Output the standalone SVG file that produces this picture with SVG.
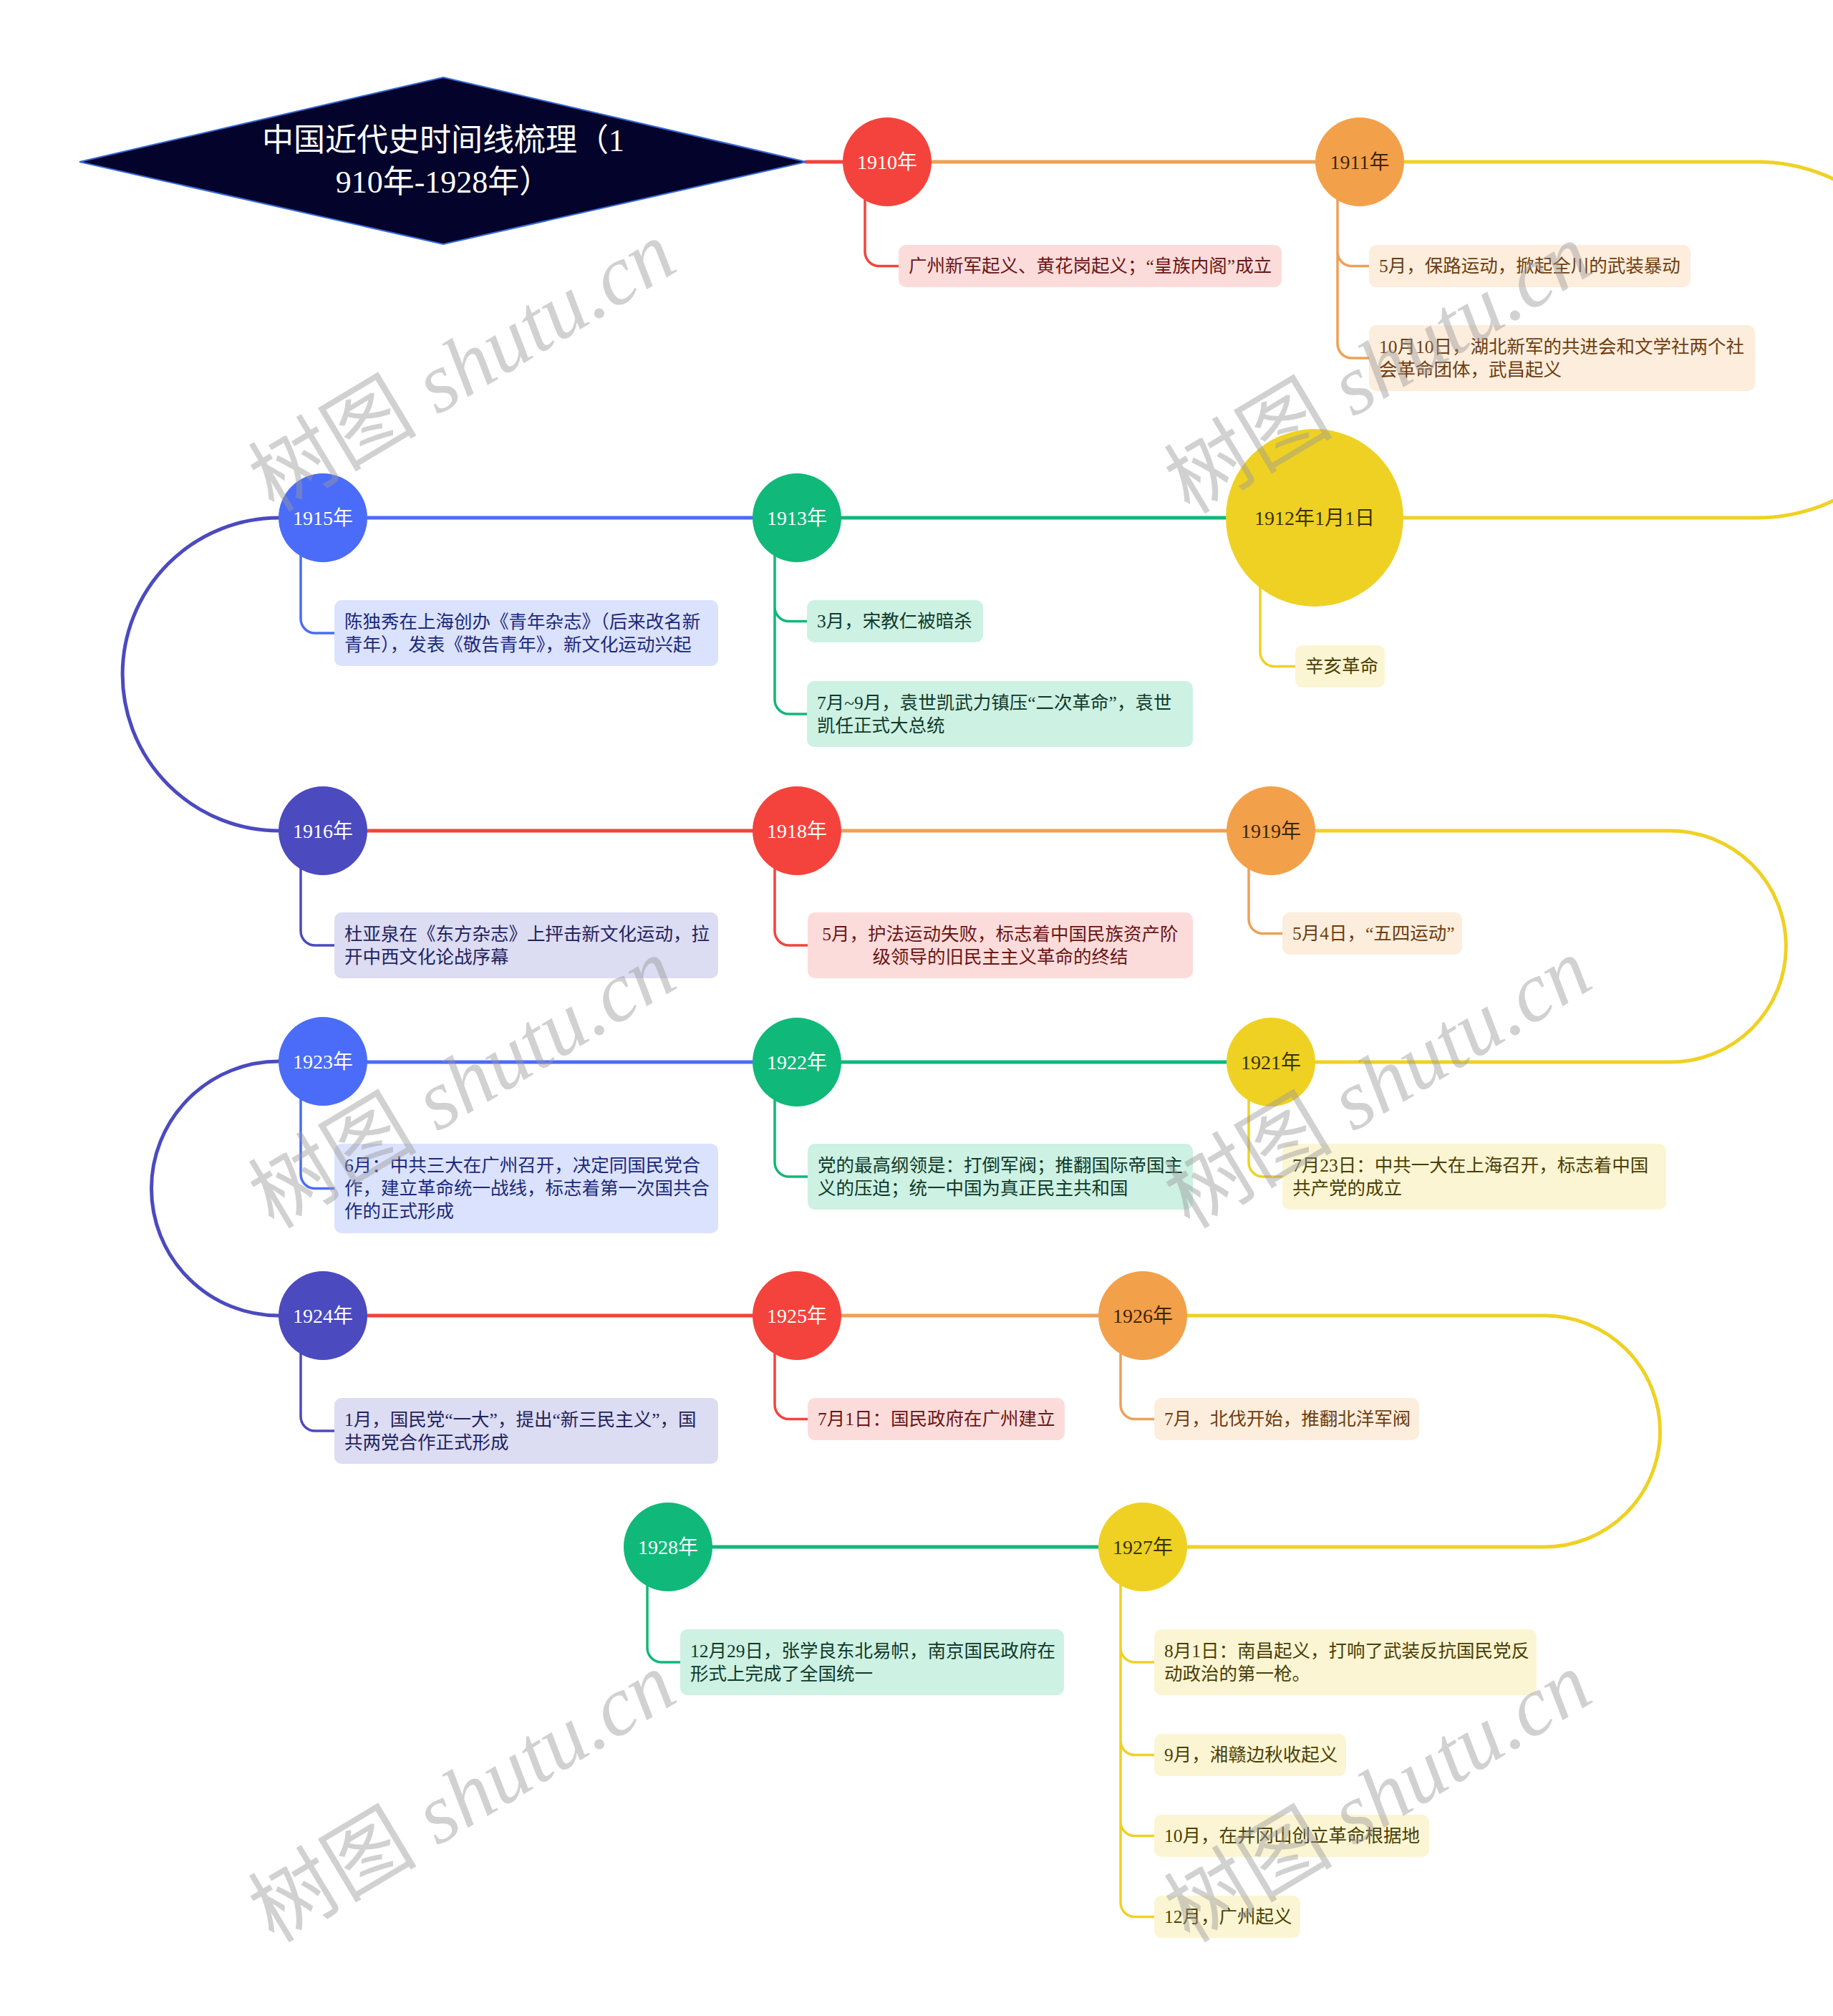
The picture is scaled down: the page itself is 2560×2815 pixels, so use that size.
<svg xmlns="http://www.w3.org/2000/svg" width="2560" height="2815" viewBox="0 0 2560 2815">
<style>
text{font-family:"Liberation Serif","Noto Sans CJK SC",serif;dominant-baseline:central}
.yr{font-size:28px;text-anchor:middle}
.w{fill:#ffffff}.dk1{fill:#3d2607}.dk2{fill:#3a3200}
.bt{font-size:25.5px}
.main{fill:none;stroke-width:5;stroke-linecap:round}
.br{fill:none;stroke-width:3.5}
.s-red{stroke:#f4433c}.s-or{stroke:#eea057}.s-ye{stroke:#efd123}.s-gr{stroke:#10b87a}.s-bl{stroke:#4b6cf8}.s-in{stroke:#4b4abf}
.f-red{fill:#f4433c}.f-or{fill:#f3a04b}.f-ye{fill:#efd123}.f-gr{fill:#10b87a}.f-bl{fill:#4b6cf8}.f-in{fill:#4b4abf}
.b-red{fill:#fcdcdb}.b-or{fill:#fdeddc}.b-ye{fill:#fcf5d3}.b-gr{fill:#cdf1e3}.b-bl{fill:#dbe2fd}.b-in{fill:#dcdcf3}
.t-red{fill:#6b1515}.t-or{fill:#6e3d10}.t-ye{fill:#4a3f05}.t-gr{fill:#103a2a}.t-bl{fill:#1c2a7a}.t-in{fill:#23235c}
.wm{font-size:118px;fill:#9a9a9a;fill-opacity:0.45;text-anchor:middle}
</style>
<rect width="2560" height="2815" fill="#ffffff"/>

<g id="connectors">
<path class="main s-red" d="M1126,226 H1200"/>
<path class="main s-or" d="M1239,226 H1899"/>
<path class="main s-ye" d="M1899,226 H2454 A248.5,248.5 0 0 1 2454,723 H1836"/>
<path class="main s-gr" d="M1836,723 H1113"/>
<path class="main s-bl" d="M1113,723 H451"/>
<path class="main s-in" d="M451,723 H389.5 A218.5,218.5 0 0 0 389.5,1160 H451"/>
<path class="main s-red" d="M451,1160 H1113"/>
<path class="main s-or" d="M1113,1160 H1775"/>
<path class="main s-ye" d="M1775,1160 H2333 A161.5,161.5 0 0 1 2333,1483 H1775"/>
<path class="main s-gr" d="M1775,1483 H1113"/>
<path class="main s-bl" d="M1113,1483 H451"/>
<path class="main s-in" d="M451,1482 H389 A177.5,177.5 0 0 0 389,1837 H451"/>
<path class="main s-red" d="M451,1837 H1113"/>
<path class="main s-or" d="M1113,1837 H1596"/>
<path class="main s-ye" d="M1596,1837 H2157 A161.5,161.5 0 0 1 2157,2160 H1596"/>
<path class="main s-gr" d="M1596,2160 H933"/>

<path class="br s-red" d="M1208,226 V351.5 A20,20 0 0 0 1228,371.5 H1255"/>
<path class="br s-or" d="M1868,226 V480 A20,20 0 0 0 1888,500 H1912 M1868,351.5 A20,20 0 0 0 1888,371.5 H1912"/>
<path class="br s-ye" d="M1760,723 V910.5 A20,20 0 0 0 1780,930.5 H1809"/>
<path class="br s-gr" d="M1082,723 V977 A20,20 0 0 0 1102,997 H1127 M1082,847.5 A20,20 0 0 0 1102,867.5 H1127"/>
<path class="br s-bl" d="M420,723 V864 A20,20 0 0 0 440,884 H467"/>
<path class="br s-in" d="M420,1160 V1300 A20,20 0 0 0 440,1320 H467"/>
<path class="br s-red" d="M1082,1160 V1300 A20,20 0 0 0 1102,1320 H1128"/>
<path class="br s-or" d="M1744,1160 V1283.5 A20,20 0 0 0 1764,1303.5 H1791"/>
<path class="br s-ye" d="M1744,1483 V1623 A20,20 0 0 0 1764,1643 H1791"/>
<path class="br s-gr" d="M1082,1483 V1623 A20,20 0 0 0 1102,1643 H1128"/>
<path class="br s-bl" d="M420,1482 V1639.5 A20,20 0 0 0 440,1659.5 H467"/>
<path class="br s-in" d="M420,1837 V1978 A20,20 0 0 0 440,1998 H467"/>
<path class="br s-red" d="M1082,1837 V1961.5 A20,20 0 0 0 1102,1981.5 H1128"/>
<path class="br s-or" d="M1565,1837 V1961.5 A20,20 0 0 0 1585,1981.5 H1612"/>
<path class="br s-ye" d="M1565,2160 V2656.5 A20,20 0 0 0 1585,2676.5 H1612 M1565,2301 A20,20 0 0 0 1585,2321 H1612 M1565,2430.5 A20,20 0 0 0 1585,2450.5 H1612 M1565,2543.5 A20,20 0 0 0 1585,2563.5 H1612"/>
<path class="br s-gr" d="M904,2160 V2301 A20,20 0 0 0 924,2321 H950"/>
</g>

<g id="title">
<polygon points="111,226 619,108 1126,226 619,341" fill="#03032b" stroke="#3a6bd6" stroke-width="2"/>
<text x="619" y="196" font-size="44" fill="#ffffff" text-anchor="middle">中国近代史时间线梳理（1</text>
<text x="619" y="254" font-size="44" fill="#ffffff" text-anchor="middle">910年-1928年）</text>
</g>

<g id="n1910"><circle cx="1239" cy="226" r="62" class="f-red"/><text x="1239" y="226" class="yr w">1910年</text></g>
<g id="n1911"><circle cx="1899" cy="226" r="62" class="f-or"/><text x="1899" y="226" class="yr dk1">1911年</text></g>
<g id="n1912"><circle cx="1836" cy="723" r="124" class="f-ye"/><text x="1836" y="723" class="yr dk2">1912年1月1日</text></g>
<g id="n1913"><circle cx="1113" cy="723" r="62" class="f-gr"/><text x="1113" y="723" class="yr w">1913年</text></g>
<g id="n1915"><circle cx="451" cy="723" r="62" class="f-bl"/><text x="451" y="723" class="yr w">1915年</text></g>
<g id="n1916"><circle cx="451" cy="1160" r="62" class="f-in"/><text x="451" y="1160" class="yr w">1916年</text></g>
<g id="n1918"><circle cx="1113" cy="1160" r="62" class="f-red"/><text x="1113" y="1160" class="yr w">1918年</text></g>
<g id="n1919"><circle cx="1775" cy="1160" r="62" class="f-or"/><text x="1775" y="1160" class="yr dk1">1919年</text></g>
<g id="n1921"><circle cx="1775" cy="1483" r="62" class="f-ye"/><text x="1775" y="1483" class="yr dk2">1921年</text></g>
<g id="n1922"><circle cx="1113" cy="1483" r="62" class="f-gr"/><text x="1113" y="1483" class="yr w">1922年</text></g>
<g id="n1923"><circle cx="451" cy="1482" r="62" class="f-bl"/><text x="451" y="1482" class="yr w">1923年</text></g>
<g id="n1924"><circle cx="451" cy="1837" r="62" class="f-in"/><text x="451" y="1837" class="yr w">1924年</text></g>
<g id="n1925"><circle cx="1113" cy="1837" r="62" class="f-red"/><text x="1113" y="1837" class="yr w">1925年</text></g>
<g id="n1926"><circle cx="1596" cy="1837" r="62" class="f-or"/><text x="1596" y="1837" class="yr dk1">1926年</text></g>
<g id="n1927"><circle cx="1596" cy="2160" r="62" class="f-ye"/><text x="1596" y="2160" class="yr dk2">1927年</text></g>
<g id="n1928"><circle cx="933" cy="2160" r="62" class="f-gr"/><text x="933" y="2160" class="yr w">1928年</text></g>

<g id="b1910"><rect x="1255" y="342" width="535" height="59" rx="10" class="b-red"/><text x="1269" y="371.5" class="bt t-red">广州新军起义、黄花岗起义；“皇族内阁”成立</text></g>
<g id="b1911a"><rect x="1912" y="342" width="449" height="59" rx="10" class="b-or"/><text x="1926" y="371.5" class="bt t-or">5月，保路运动，掀起全川的武装暴动</text></g>
<g id="b1911b"><rect x="1912" y="454" width="539" height="92" rx="10" class="b-or"/><text x="1926" y="484" class="bt t-or">10月10日，湖北新军的共进会和文学社两个社</text><text x="1926" y="516" class="bt t-or">会革命团体，武昌起义</text></g>
<g id="b1912"><rect x="1809" y="901" width="125" height="59" rx="10" class="b-ye"/><text x="1823" y="930.5" class="bt t-ye">辛亥革命</text></g>
<g id="b1913a"><rect x="1127" y="838" width="246" height="59" rx="10" class="b-gr"/><text x="1141" y="867.5" class="bt t-gr">3月，宋教仁被暗杀</text></g>
<g id="b1913b"><rect x="1127" y="951" width="539" height="92" rx="10" class="b-gr"/><text x="1141" y="981" class="bt t-gr">7月~9月，袁世凯武力镇压“二次革命”，袁世</text><text x="1141" y="1013" class="bt t-gr">凯任正式大总统</text></g>
<g id="b1915"><rect x="467" y="838" width="536" height="92" rx="10" class="b-bl"/><text x="481" y="868" class="bt t-bl">陈独秀在上海创办《青年杂志》（后来改名新</text><text x="481" y="900" class="bt t-bl">青年），发表《敬告青年》，新文化运动兴起</text></g>
<g id="b1916"><rect x="467" y="1274" width="536" height="92" rx="10" class="b-in"/><text x="481" y="1304" class="bt t-in">杜亚泉在《东方杂志》上抨击新文化运动，拉</text><text x="481" y="1336" class="bt t-in">开中西文化论战序幕</text></g>
<g id="b1918"><rect x="1128" y="1274" width="538" height="92" rx="10" class="b-red"/><text x="1397" y="1304" class="bt t-red" text-anchor="middle">5月，护法运动失败，标志着中国民族资产阶</text><text x="1397" y="1336" class="bt t-red" text-anchor="middle">级领导的旧民主主义革命的终结</text></g>
<g id="b1919"><rect x="1791" y="1274" width="251" height="59" rx="10" class="b-or"/><text x="1805" y="1303.5" class="bt t-or">5月4日，“五四运动”</text></g>
<g id="b1921"><rect x="1791" y="1597" width="536" height="92" rx="10" class="b-ye"/><text x="1805" y="1627" class="bt t-ye">7月23日：中共一大在上海召开，标志着中国</text><text x="1805" y="1659" class="bt t-ye">共产党的成立</text></g>
<g id="b1922"><rect x="1128" y="1597" width="538" height="92" rx="10" class="b-gr"/><text x="1142" y="1627" class="bt t-gr">党的最高纲领是：打倒军阀；推翻国际帝国主</text><text x="1142" y="1659" class="bt t-gr">义的压迫；统一中国为真正民主共和国</text></g>
<g id="b1923"><rect x="467" y="1597" width="536" height="125" rx="10" class="b-bl"/><text x="481" y="1627.5" class="bt t-bl">6月：中共三大在广州召开，决定同国民党合</text><text x="481" y="1659.5" class="bt t-bl">作，建立革命统一战线，标志着第一次国共合</text><text x="481" y="1691.5" class="bt t-bl">作的正式形成</text></g>
<g id="b1924"><rect x="467" y="1952" width="536" height="92" rx="10" class="b-in"/><text x="481" y="1982" class="bt t-in">1月，国民党“一大”，提出“新三民主义”，国</text><text x="481" y="2014" class="bt t-in">共两党合作正式形成</text></g>
<g id="b1925"><rect x="1128" y="1952" width="359" height="59" rx="10" class="b-red"/><text x="1142" y="1981.5" class="bt t-red">7月1日：国民政府在广州建立</text></g>
<g id="b1926"><rect x="1612" y="1952" width="370" height="59" rx="10" class="b-or"/><text x="1626" y="1981.5" class="bt t-or">7月，北伐开始，推翻北洋军阀</text></g>
<g id="b1927a"><rect x="1612" y="2275" width="534" height="92" rx="10" class="b-ye"/><text x="1626" y="2305" class="bt t-ye">8月1日：南昌起义，打响了武装反抗国民党反</text><text x="1626" y="2337" class="bt t-ye">动政治的第一枪。</text></g>
<g id="b1927b"><rect x="1612" y="2421" width="268" height="59" rx="10" class="b-ye"/><text x="1626" y="2450.5" class="bt t-ye">9月，湘赣边秋收起义</text></g>
<g id="b1927c"><rect x="1612" y="2534" width="384" height="59" rx="10" class="b-ye"/><text x="1626" y="2563.5" class="bt t-ye">10月，在井冈山创立革命根据地</text></g>
<g id="b1927d"><rect x="1612" y="2647" width="204" height="59" rx="10" class="b-ye"/><text x="1626" y="2676.5" class="bt t-ye">12月，广州起义</text></g>
<g id="b1928"><rect x="950" y="2275" width="536" height="92" rx="10" class="b-gr"/><text x="964" y="2305" class="bt t-gr">12月29日，张学良东北易帜，南京国民政府在</text><text x="964" y="2337" class="bt t-gr">形式上完成了全国统一</text></g>

<g id="watermark">
<text class="wm" transform="translate(646,512) rotate(-31)">树图 <tspan font-style="italic">shutu.cn</tspan></text>
<text class="wm" transform="translate(1925,515) rotate(-31)">树图 <tspan font-style="italic">shutu.cn</tspan></text>
<text class="wm" transform="translate(646,1513) rotate(-31)">树图 <tspan font-style="italic">shutu.cn</tspan></text>
<text class="wm" transform="translate(1925,1513) rotate(-31)">树图 <tspan font-style="italic">shutu.cn</tspan></text>
<text class="wm" transform="translate(646,2510) rotate(-31)">树图 <tspan font-style="italic">shutu.cn</tspan></text>
<text class="wm" transform="translate(1925,2510) rotate(-31)">树图 <tspan font-style="italic">shutu.cn</tspan></text>
</g>
</svg>
